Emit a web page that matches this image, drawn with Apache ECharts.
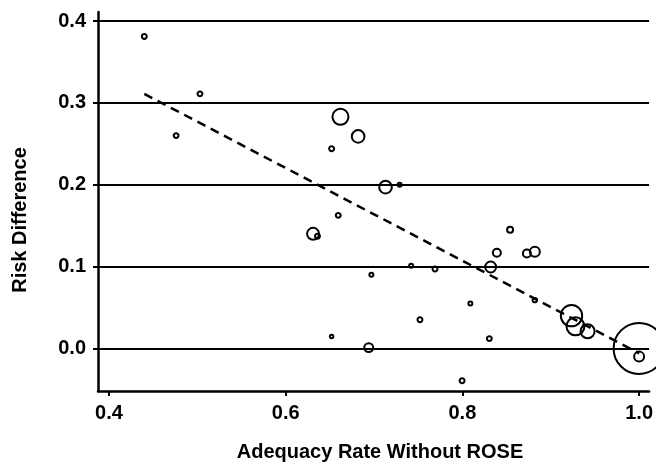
<!DOCTYPE html>
<html>
<head>
<meta charset="utf-8">
<script src="https://cdn.jsdelivr.net/npm/echarts@6/dist/echarts.min.js"></script>
<style>
  html, body { margin: 0; padding: 0; background: #fff; }
  #main { width: 656px; height: 464px; }
</style>
</head>
<body>
<div id="main"></div>
<script>
// studies: adequacy rate without ROSE (x), risk difference (y), study weight (bubble area)
var adequacy = [0.440, 0.503, 0.476, 0.662, 0.682, 0.652, 0.713, 0.729, 0.6595, 0.631, 0.636,
                0.697, 0.652, 0.694, 0.742, 0.769, 0.832, 0.839, 0.854, 0.873, 0.882,
                0.809, 0.882, 0.752, 0.8305, 0.7997, 0.9235, 0.928, 0.9417, 1.0, 1.0];
var riskDiff = [0.381, 0.311, 0.260, 0.283, 0.259, 0.244, 0.197, 0.200, 0.1626, 0.140, 0.137,
                0.090, 0.0145, 0.001, 0.101, 0.097, 0.0995, 0.117, 0.145, 0.116, 0.118,
                0.055, 0.059, 0.035, 0.012, -0.0395, 0.040, 0.027, 0.021, 0.0, -0.010];
var weights  = [6, 6, 6, 64, 40, 6, 40, 4, 6, 36, 6,
                4, 3, 20, 4, 6, 30, 16, 9, 16, 25,
                4, 5, 6, 6, 6, 114, 81, 49, 650, 25];

// fitted trend line
var fitX = [0.44, 1.0];
var fitY = [0.311, -0.006];

var yTicks = [0.0, 0.1, 0.2, 0.3, 0.4];
var xTicks = [0.4, 0.6, 0.8, 1.0];

var points = adequacy.map(function (x, i) { return [x, riskDiff[i], weights[i]]; });
var fitLine = fitX.map(function (x, i) { return [x, fitY[i]]; });

var font = '"Liberation Sans", Arial, Helvetica, sans-serif';

var chart = echarts.init(document.getElementById('main'));

var option = {
    animation: false,
    backgroundColor: '#fff',
    grid: { left: 98, right: 6, top: 12, bottom: 73 },
    xAxis: {
        type: 'value',
        min: 0.3876,
        max: 1.0113,
        axisLine: { show: true, onZero: false, lineStyle: { color: '#000', width: 2.5 } },
        axisTick: { show: true, customValues: xTicks, length: 5, lineStyle: { color: '#000', width: 2 } },
        axisLabel: {
            customValues: xTicks,
            margin: 12,
            color: '#000',
            fontFamily: font,
            fontWeight: 'bold',
            fontSize: 20,
            formatter: function (v) { return v.toFixed(1); }
        },
        splitLine: { show: false }
    },
    yAxis: {
        type: 'value',
        min: -0.052,
        max: 0.411,
        axisLine: { show: true, onZero: false, lineStyle: { color: '#000', width: 2.5 } },
        axisTick: { show: true, customValues: yTicks, length: 5, lineStyle: { color: '#000', width: 2 } },
        axisLabel: {
            customValues: yTicks,
            margin: 12,
            color: '#000',
            fontFamily: font,
            fontWeight: 'bold',
            fontSize: 20,
            formatter: function (v) { return v.toFixed(1); }
        },
        splitLine: { show: false }
    },
    graphic: [
        {
            type: 'text',
            x: 380, y: 452,
            style: {
                text: 'Adequacy Rate Without ROSE',
                font: 'bold 20px ' + font,
                fill: '#000',
                align: 'center',
                verticalAlign: 'middle'
            }
        },
        {
            type: 'text',
            x: 20, y: 220,
            rotation: Math.PI / 2,
            style: {
                text: 'Risk Difference',
                font: 'bold 20px ' + font,
                fill: '#000',
                align: 'center',
                verticalAlign: 'middle'
            }
        }
    ],
    series: [
        {
            // horizontal reference lines
            type: 'line',
            data: [],
            silent: true,
            markLine: {
                silent: true,
                symbol: ['none', 'none'],
                label: { show: false },
                lineStyle: { color: '#000', width: 2.2, type: 'solid' },
                data: yTicks.map(function (v) { return { yAxis: v }; })
            }
        },
        {
            type: 'line',
            data: fitLine,
            showSymbol: false,
            symbol: 'none',
            silent: true,
            lineStyle: { color: '#000', width: 2.5, type: [9, 6] },
            z: 3
        },
        {
            type: 'scatter',
            data: points,
            symbol: 'circle',
            symbolSize: function (d) { return 2 * Math.sqrt(d[2]); },
            itemStyle: { color: 'rgba(0,0,0,0)', borderColor: '#000', borderWidth: 2, opacity: 1 },
            z: 4
        }
    ]
};

chart.setOption(option);
</script>
</body>
</html>
